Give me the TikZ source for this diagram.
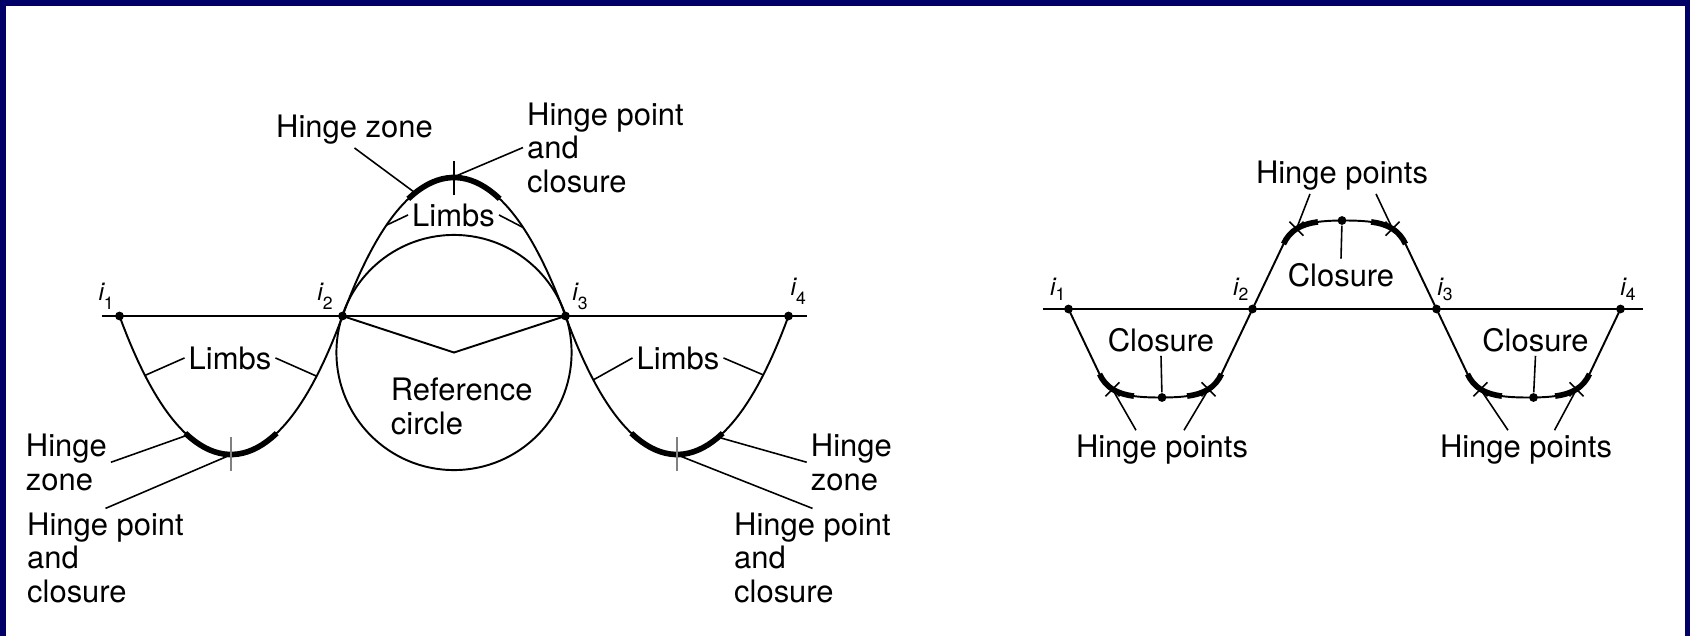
\documentclass[tikz,border=0pt]{standalone}
\usepackage{fontspec}
\setmainfont{TeX Gyre Heros}
\usetikzlibrary{positioning}
\definecolor{framenavy}{RGB}{0,0,102}
\newcommand{\ilab}[2][2.6pt]{{\fontsize{7}{7}\selectfont\itshape i}\raisebox{-#1}{\fontsize{5}{5}\selectfont #2}}

\begin{document}
\begin{tikzpicture}[
			x=0.01cm, y=-0.01cm,
			line/.style={line width=0.55pt},
			axis/.style={line width=0.7pt},
			leader/.style={line width=0.45pt},
			hinge/.style={line width=1.6pt},
			txt/.style={font=\fontsize{8.8}{9.5}\selectfont, inner sep=1pt, align=left},
			ilabel/.style={inner sep=0pt, anchor=base west},
			dot/.style={circle, fill, inner sep=0pt, minimum size=2.5pt}
			]
			
			\fill[framenavy] (0,0) rectangle (1690,636);
			\fill[white] (6,6) rectangle (1685,636);
			
			% left: folds with reference circle
			\draw[axis] (101.7,316) -- (806.7,316);
			\foreach \xs/\s/\tc in {119.5/1/gray, 342.5/-1/black, 565.5/1/gray}{
				\begin{scope}[shift={(\xs,316)}, yscale=\s]
					\draw[line] plot[domain=0:1, samples=60] ({223*\x}, {138.5*4*\x*(1-\x)*(1.1-0.4*\x*(1-\x))});
					\draw[hinge] plot[domain=0.295:0.705, samples=20] ({223*\x}, {138.5*4*\x*(1-\x)*(1.1-0.4*\x*(1-\x))});
					\draw[leader, \tc] (111.5,121) -- (111.5,155);
				\end{scope}
			}
			\coordinate (refc) at (454,352.5);
			\draw[line] (refc) circle[radius=1.175cm];
			
			\node[dot] (i1) at (119.5,316) {};
			\node[dot] (i2) at (342.5,316) {};
			\node[dot] (i3) at (565.5,316) {};
			\node[dot] (i4) at (788.5,316) {};
			\draw[line] (i2.center) -- (refc) -- (i3.center);
			
			\node[ilabel] (li1) at (97.8,300) {\ilab{1}};
			\node[ilabel] (li2) at (316.7,300) {\ilab{2}};
			\node[ilabel] (li3) at (571.7,300) {\ilab{3}};
			\node[ilabel] (li4) at (790,295) {\ilab{4}};
			
			\node[txt, anchor=base west] (hzT) at (272,137) {Hinge zone};
			\node[txt, anchor=base west] (hpT) at (523,192) {Hinge point\\and\\closure};
			\node[txt, anchor=base] (limT) at (453.5,226) {Limbs};
			\node[txt, anchor=base] (limL) at (230,369) {Limbs};
			\node[txt, anchor=base] (limR) at (678,369) {Limbs};
			\node[txt, anchor=base west] (refT) at (386.7,434) {Reference\\circle};
			\node[txt, anchor=base west] (hzL) at (21.7,490) {Hinge\\zone};
			\node[txt, anchor=base west] (hpL) at (23,602) {Hinge point\\and\\closure};
			\node[txt, anchor=base west] (hzR) at (806.7,490) {Hinge\\zone};
			\node[txt, anchor=base west] (hpR) at (730,602) {Hinge point\\and\\closure};
			
			\coordinate (hzc) at (414,192);
			\coordinate (hpc) at (456,176);
			\coordinate (lc1) at (386.4,225.2);
			\coordinate (lc2) at (523.1,227.5);
			\coordinate (ll1) at (145,375.4);
			\coordinate (ll2) at (316.7,376.2);
			\coordinate (lr1) at (593.3,379.9);
			\coordinate (lr2) at (763.3,374.9);
			\coordinate (hzl) at (185,436);
			\coordinate (hpl) at (228,456);
			\coordinate (hzr) at (721,438);
			\coordinate (hpr) at (680,456);
			
			\draw[leader] (hzT.south) -- (hzc);
			\draw[leader] (hpT.west) -- (hpc);
			\draw[leader] (limT.west) -- (lc1);
			\draw[leader] (limT.east) -- (lc2);
			\draw[leader] (limL.west) -- (ll1);
			\draw[leader] (limL.east) -- (ll2);
			\draw[leader] (limR.west) -- (lr1);
			\draw[leader] (limR.east) -- (lr2);
			\draw[leader] (hzL.east) -- (hzl);
			\draw[leader] (hpL.north) -- (hpl);
			\draw[leader] (hzR.west) -- (hzr);
			\draw[leader] (hpR.north) -- (hpr);
			
			% right: folds with hinge points
			\draw[axis] (1043,309) -- (1643,309);
			\foreach \xc/\s/\n in {1160.5/1/a, 1344.5/-1/b, 1528.5/1/c}{
				\begin{scope}[shift={(\xc,309)}, yscale=\s]
					\draw[line] (-92,0) -- (-61,65) .. controls (-51.7,84.5) and (-34.5,88.5) .. (0,88.5)
					.. controls (34.5,88.5) and (51.7,84.5) .. (61,65) -- (92,0);
					\draw[hinge] (-61,65) .. controls (-54.5,78.65) and (-44.1,84.7) .. (-26.6,87.1);
					\draw[hinge] (61,65) .. controls (54.5,78.65) and (44.1,84.7) .. (26.6,87.1);
					\coordinate (xl-\n) at (-48,80.3);
					\coordinate (xr-\n) at (48,80.3);
					\draw[leader] (xl-\n) +(-7,-7) -- +(7,7) +(-7,7) -- +(7,-7);
					\draw[leader] (xr-\n) +(-7,-7) -- +(7,7) +(-7,7) -- +(7,-7);
				\end{scope}
			}
			
			\node[dot] (j1) at (1068.5,309) {};
			\node[dot] (j2) at (1252.5,309) {};
			\node[dot] (j3) at (1436.5,309) {};
			\node[dot] (j4) at (1620.5,309) {};
			\node[dot] (ca) at (1162,397.5) {};
			\node[dot] (cb) at (1342,220.5) {};
			\node[dot] (cc) at (1533.5,397.5) {};
			
			\node[ilabel] (lj1) at (1049.5,295) {\ilab[1.5pt]{1}};
			\node[ilabel] (lj2) at (1232.5,295) {\ilab[1.5pt]{2}};
			\node[ilabel] (lj3) at (1436.7,295) {\ilab[1.5pt]{3}};
			\node[ilabel] (lj4) at (1619.7,295) {\ilab[1.5pt]{4}};
			
			\node[txt, anchor=base] (hpsT) at (1342,183) {Hinge points};
			\node[txt, anchor=base] (clT) at (1341,286) {Closure};
			\node[txt, anchor=base] (clL) at (1161,351) {Closure};
			\node[txt, anchor=base] (clR) at (1535.5,351) {Closure};
			\node[txt, anchor=base] (hpsL) at (1162,457) {Hinge points};
			\node[txt, anchor=base] (hpsR) at (1526,457) {Hinge points};
			
			\draw[leader] ([xshift=-0.32cm]hpsT.south) -- (xl-b);
			\draw[leader] ([xshift=0.34cm]hpsT.south) -- (xr-b);
			\draw[leader] (cb) -- (clT.north);
			\draw[leader] (clL.south) -- (ca);
			\draw[leader] (clR.south) -- (cc);
			\draw[leader] ([xshift=-0.26cm]hpsL.north) -- (xl-a);
			\draw[leader] ([xshift=0.22cm]hpsL.north) -- (xr-a);
			\draw[leader] ([xshift=-0.18cm]hpsR.north) -- (xl-c);
			\draw[leader] ([xshift=0.285cm]hpsR.north) -- (xr-c);
			
		\end{tikzpicture}
\end{document}
